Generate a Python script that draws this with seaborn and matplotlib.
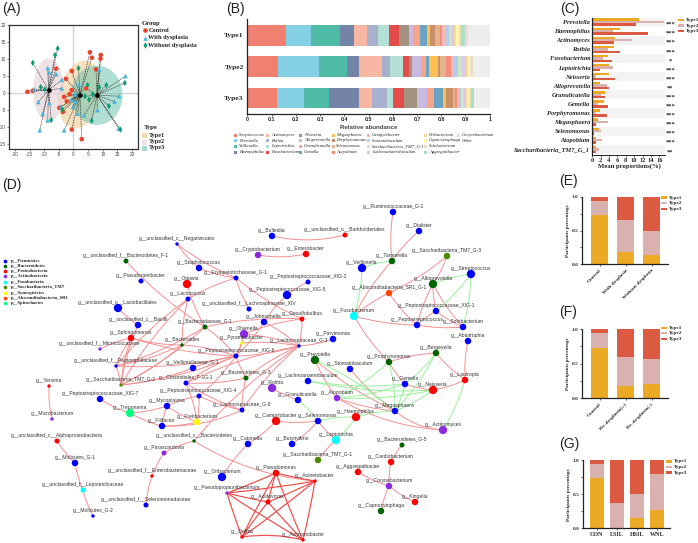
# Composite figure: PCA, stacked bars, grouped bars and a co-occurrence network
import numpy as np
import pandas as pd
import matplotlib
matplotlib.use("Agg")
import matplotlib.pyplot as plt
from matplotlib.patches import Ellipse, FancyArrowPatch, Rectangle
import seaborn as sns

W, H = 698, 543
SERIF = "Liberation Serif"
SANS = "Liberation Sans"

# --- panel A data
control_x = [5.6, 9.3, 9.2, 6.3, 7.7, -5.9, -0.6, -2.6, 4.3, -0.6, -15.7, -13.9, -3.2, -1.4, -2.3, -4.8, -3.6, -0.6, 2.8]
control_y = [11.9, 11.1, 10.0, 10.3, 6.9, 7.1, 6.4, 4.1, 1.3, 0.8, 0.3, 0.6, -1.2, -0.4, -2.5, -4.4, -5.6, -10.8, -13.6]
control_type = ["Type1", "Type3", "Type3", "Type1", "Type3", "Type2", "Type1", "Type1", "Type3", "Type1", "Type2", "Type2", "Type1", "Type1", "Type1", "Type1", "Type1", "Type1", "Type1"]
with_x = [17.7, 8.8, -8.8, -8.3, -5.9, -4.0, -4.0, -13.4, -12.0, -8.2, -10.5, -8.8, -11.5, -3.2, -4.2, -0.2, -0.8, 0.6, 1.4, 3.6, 1.9, 8.2, 14.0, 15.6, 15.4, 0.6]
with_y = [4.9, 6.9, 7.3, 6.0, 5.5, 3.8, 1.3, 1.0, -2.7, -3.0, -6.2, -8.1, -11.0, -11.0, -4.1, -4.1, -2.0, -2.7, -6.1, -6.6, 2.3, -5.1, -2.6, -1.0, -10.5, -0.4]
with_type = ["Type3", "Type3", "Type2", "Type2", "Type2", "Type2", "Type2", "Type2", "Type2", "Type2", "Type2", "Type2", "Type2", "Type1", "Type1", "Type1", "Type1", "Type1", "Type1", "Type3", "Type1", "Type3", "Type3", "Type3", "Type3", "Type1"]
without_x = [-5.4, -6.3, -13.9, 1.7, -11.2, -9.8, -7.6, -3.8, 11.2, 8.8, 17.5, 12.1, 16.0, 6.2, 5.3, 3.9, 2.1, 6.6, 4.8]
without_y = [13.0, 11.1, 8.8, 7.2, 1.7, 1.0, -8.0, -4.9, 2.3, 1.6, 2.9, -3.9, -10.8, -8.2, -2.0, -1.0, -0.7, -0.4, 2.3]
without_type = ["Type2", "Type2", "Type2", "Type1", "Type2", "Type2", "Type2", "Type1", "Type3", "Type3", "Type3", "Type3", "Type3", "Type3", "Type3", "Type3", "Type1", "Type3", "Type1"]
centre_x = {"Type1": 2.2, "Type2": -8.5, "Type3": 8.0}
centre_y = {"Type1": -0.5, "Type2": 0.8, "Type3": -0.7}

# --- panel B data, cumulative position of each genus along the bar
genera = ["Streptococcus", "Prevotella", "Veillonella", "Haemophilus",
          "Actinomyces", "Rothia", "Leptotrichia", "Fusobacterium",
          "Neisseria", "Alloprevotella", "Granulicatella", "Gemella",
          "Megasphaera", "Porphyromonas", "Selenomonas", "Atopobium",
          "Campylobacter", "Stomatobaculum", "Saccharibacteria_TM7_G-1", "Lachnoanaerobaculum",
          "Oribacterium", "Capnocytophaga", "Solobacterium", "Aggregatibacter",
          "Corynebacterium", "Other"]
genus_colors = ["#f08070", "#85d0e4", "#4dbba6", "#7484a8",
                "#f7b7a3", "#a7b0cc", "#b2e0d5", "#e64b4b",
                "#a39280", "#c9b8e0", "#f7a488", "#6ba3c4",
                "#fbbf54", "#c98f68", "#e3b48c", "#f58d7c",
                "#f6b9b5", "#b5cde6", "#cce5c4", "#dcc8e8",
                "#fad9a0", "#fdf5b0", "#e8dfc5", "#a8e0c4",
                "#f9d2e4", "#eeeeee"]
type1_top = [.158, .263, .382, .440, .494, .541, .586, .627, .668, .685, .713, .740, .754, .774, .794, .803, .820, .831, .843, .851, .861, .875, .880, .897, .911, 1]
type2_top = [.127, .296, .413, .461, .556, .589, .641, .668, .680, .717, .736, .748, .787, .795, .820, .840, .851, .869, .886, .902, .911, .919, .933, .933, .933, 1]
type3_top = [.122, .234, .337, .461, .516, .578, .600, .646, .700, .743, .770, .806, .820, .850, .856, .865, .875, .883, .893, .901, .906, .915, .922, .935, .935, 1]

# --- panel C data
c_genera = ["Prevotella", "Haemophilus", "Actinomyces", "Rothia", "Fusobacterium", "Leptotrichia", "Neisseria",
            "Alloprevotella", "Granulicatella", "Gemella", "Porphyromonas", "Megasphaera", "Selenomonas",
            "Atopobium", "Saccharibacteria_TM7_G_1"]
c_type1 = [11.2, 6.5, 5.4, 5.1, 3.8, 3.9, 3.9, 1.8, 3.0, 2.7, 1.9, 1.3, 1.6, 0.9, 0.8]
c_type2 = [17.0, 4.9, 9.4, 3.7, 2.6, 4.9, 1.0, 3.4, 2.0, 1.3, 0.9, 3.8, 2.0, 2.2, 1.6]
c_type3 = [10.5, 13.4, 5.2, 6.5, 4.7, 1.8, 5.5, 4.0, 3.1, 3.8, 3.4, 1.0, 0.5, 0.8, 1.0]
c_stars = ["***", "***", "***", "***", "*", "***", "***", "**", "***", "***", "***", "***", "***", "***", "**"]

# --- panels E, F, G data (share of each type)
e_labels = ["Control", "With dysplasia", "Without dysplasia"]
e_type1 = [.73, .18, .14]
e_type2 = [.21, .48, .36]
e_type3 = [.06, .34, .50]
f_labels = ["Control", "Pre-dysplasia(+)", "Pre-dysplasia(-)"]
f_type1 = [.73, .175, .20]
f_type2 = [.21, .425, .37]
f_type3 = [.06, .40, .43]
g_labels = ["CON", "LSIL", "HSIL", "WNL"]
g_type1 = [.73, 0.0, .146, .263]
g_type2 = [.21, .375, .354, .527]
g_type3 = [.06, .625, .50, .21]

# --- panel D data: nodes
node_names = ["Bulleidia", "Cryptobacterium", "unclassified_c__Negativicutes", "unclassified_f__Bacteroidetes_F-1",
              "Staphylococcus", "Erysipelotrichaceae_G-1", "Pseudoramibacter", "Ottowia",
              "Peptostreptococcaceae_XIG-5", "Lactococcus", "unclassified_f__Lachnospiraceae_XIV",
              "unclassified_o__Lactobacillales", "Johnsonella", "unclassified_c__Bacilli", "Bacteroidaceae_G-1",
              "Olsenella", "Sphingomonas", "Pyramidobacter", "Bacteroides", "unclassified_f__Micrococcaceae",
              "Peptostreptococcaceae_XIG-6", "Lachnospiraceae_G-3",
              "Ruminococcaceae_G-1", "Dialister", "unclassified_o__Burkholderiales", "Enterobacter",
              "Saccharibacteria_TM7_G-3", "Tannerella", "Veillonella", "Streptococcus",
              "Peptostreptococcaceae_XIG-2", "Alloprevotella", "Absconditabacteria_SR1_G-1",
              "Peptostreptococcaceae_XIG-1", "Fusobacterium", "Desulfobulbus", "Peptostreptococcus",
              "Solobacterium", "Abiotrophia", "Parvimonas", "Bergeyella", "Prevotella", "Porphyromonas",
              "Stomatobaculum", "Lachnoanaerobaculum", "Gemella", "Neisseria", "Lautropia", "Granulicatella",
              "Atopobium", "Megasphaera", "Haemophilus", "Selenomonas", "Actinomyces", "Leptotrichia",
              "Bacteroidetes_G-5", "Butyrivibrio", "Saccharibacteria_TM7_G-1", "Cardiobacterium",
              "Aggregatibacter", "Acinetobacter", "Corynebacterium", "Kingella", "Capnocytophaga", "Achromobacter",
              "unclassified_f__Peptoniphilaceae", "Veillonellaceae_G-1", "Yersinia", "Saccharibacteria_TM7_G-2",
              "Clostridiales_F-1G-1", "Bacteroidetes_G-3", "Rothia", "Peptostreptococcaceae_XIG-7",
              "Peptostreptococcaceae_XIG-4", "Mycoplasma", "Lachnospiraceae_G-8", "Microbacterium", "Treponema",
              "Fretibacterium", "Filifactor", "Campylobacter", "unclassified_c__Bacteroidetes",
              "unclassified_c__Alphaproteobacteria", "Catonella", "Parascardovia", "Molicutes_G-1", "Pseudomonas",
              "unclassified_f__Enterobacteriaceae", "Oribacterium", "unclassified_f__Leptotrichiaceae",
              "Pseudopropionibacterium", "Acidovorax", "unclassified_f__Selenomonadaceae", "Molicutes_G-2", "Delftia"]
node_x = [272, 258, 177, 126, 199, 236, 141, 187, 287, 188, 249, 118, 264, 138, 205, 244, 131, 242, 182, 100, 236, 299,
          393, 419, 345, 306, 447, 392, 362, 471, 308, 433, 389, 436, 354, 302, 417, 463, 468, 333, 436, 315, 389,
          350, 308, 405, 433, 465, 298, 337, 395, 356, 318, 443, 336, 402, 292, 318, 391, 358, 315, 389, 415, 381, 303,
          116, 193, 49, 121, 186, 246, 272, 100, 199, 167, 242, 52, 130, 197, 162, 276, 194, 57, 248, 164, 75, 276,
          152, 222, 83, 227, 268, 146, 93, 242]
node_y = [236, 255, 244, 261, 268, 278, 281, 284, 295, 299, 309, 308, 322, 325, 327, 334, 338, 343, 345, 349, 356, 346,
          212, 231, 235, 254, 256, 261, 268, 274, 282, 284, 293, 311, 316, 319, 325, 327, 341, 339, 353, 360, 362,
          369, 381, 384, 390, 380, 400, 398, 411, 417, 421, 430, 440, 445, 444, 460, 462, 472, 481, 486, 502, 511, 540,
          366, 368, 386, 385, 383, 378, 388, 399, 396, 406, 410, 419, 413, 422, 426, 421, 441, 441, 444, 453, 463, 473,
          476, 477, 490, 493, 502, 505, 516, 537]
node_phylum = ["Fir", "Act", "Fir", "Bac", "Fir", "Fir", "Fir", "Pro", "Fir", "Fir", "Fir", "Fir", "Fir", "Fir", "Bac",
               "Act", "Pro", "Syn", "Bac", "Act", "Fir", "Fir",
               "Fir", "Fir", "Pro", "Pro", "Sac", "Bac", "Fir", "Fir", "Fir", "Bac", "Abs", "Fir", "Fus", "Pro", "Fir",
               "Fir", "Fir", "Fir", "Bac", "Bac", "Bac", "Fir", "Fir", "Fir", "Pro", "Pro", "Fir", "Act", "Fir", "Pro",
               "Fir", "Act", "Fus", "Bac", "Fir", "Sac", "Pro", "Pro", "Pro", "Act", "Pro", "Bac", "Pro",
               "Fir", "Fir", "Pro", "Sac", "Fir", "Bac", "Act", "Fir", "Fir", "Fir", "Fir", "Act", "Spi", "Syn", "Fir",
               "Pro", "Bac", "Pro", "Fir", "Act", "Fir", "Pro", "Pro", "Fir", "Fus", "Act", "Pro", "Fir", "Fir", "Pro"]
node_rank = [3, 3, 1, 2, 3, 2, 2, 4, 4, 2, 2, 4, 3, 3, 2, 4, 3, 1, 1, 1, 2, 1,
             3, 3, 2, 3, 3, 3, 4, 4, 2, 4, 3, 3, 4, 2, 3, 3, 3, 3, 3, 4, 3,
             3, 3, 3, 4, 3, 3, 3, 3, 4, 3, 4, 4, 2, 3, 3, 3, 3, 1, 3, 3, 3, 1,
             1, 3, 1, 1, 2, 2, 4, 3, 2, 3, 2, 1, 4, 3, 3, 4, 1, 2, 3, 2, 3, 3,
             1, 4, 2, 1, 2, 2, 1, 1]

# --- panel D data: edges
edges_pos = [("Bulleidia", "unclassified_o__Burkholderiales"), ("Cryptobacterium", "Enterobacter"),
             ("unclassified_c__Negativicutes", "Staphylococcus"), ("Staphylococcus", "Erysipelotrichaceae_G-1"),
             ("unclassified_c__Negativicutes", "Erysipelotrichaceae_G-1"),
             ("Erysipelotrichaceae_G-1", "Lactococcus"), ("Erysipelotrichaceae_G-1", "unclassified_f__Lachnospiraceae_XIV"),
             ("Erysipelotrichaceae_G-1", "Desulfobulbus"), ("Peptostreptococcaceae_XIG-5", "Johnsonella"),
             ("Peptostreptococcaceae_XIG-2", "Peptostreptococcaceae_XIG-5"),
             ("unclassified_f__Bacteroidetes_F-1", "Bacteroidaceae_G-1"), ("Ottowia", "Bacteroidaceae_G-1"),
             ("Lactococcus", "Bacteroides"), ("Lactococcus", "Saccharibacteria_TM7_G-2"),
             ("Lactococcus", "unclassified_f__Peptoniphilaceae"), ("unclassified_o__Lactobacillales", "unclassified_c__Bacilli"),
             ("Sphingomonas", "unclassified_f__Micrococcaceae"), ("Sphingomonas", "Bacteroides"),
             ("Sphingomonas", "Saccharibacteria_TM7_G-2"), ("Sphingomonas", "unclassified_f__Peptoniphilaceae"),
             ("Sphingomonas", "Peptostreptococcaceae_XIG-6"), ("unclassified_c__Bacilli", "Saccharibacteria_TM7_G-2"),
             ("Saccharibacteria_TM7_G-2", "Bacteroides"), ("Saccharibacteria_TM7_G-2", "Bacteroidaceae_G-1"),
             ("Saccharibacteria_TM7_G-2", "Peptostreptococcaceae_XIG-6"), ("Saccharibacteria_TM7_G-2", "unclassified_f__Peptoniphilaceae"),
             ("Saccharibacteria_TM7_G-2", "Veillonellaceae_G-1"), ("unclassified_f__Peptoniphilaceae", "Bacteroides"),
             ("unclassified_f__Peptoniphilaceae", "Bacteroidaceae_G-1"), ("unclassified_f__Peptoniphilaceae", "Peptostreptococcaceae_XIG-6"),
             ("Peptostreptococcaceae_XIG-6", "Bacteroides"), ("Peptostreptococcaceae_XIG-6", "Bacteroidaceae_G-1"),
             ("Peptostreptococcaceae_XIG-6", "Clostridiales_F-1G-1"), ("Peptostreptococcaceae_XIG-6", "Veillonellaceae_G-1"),
             ("Peptostreptococcaceae_XIG-6", "Bacteroidetes_G-3"), ("Peptostreptococcaceae_XIG-6", "Lachnospiraceae_G-3"),
             ("Peptostreptococcaceae_XIG-6", "Olsenella"), ("Peptostreptococcaceae_XIG-6", "Pyramidobacter"),
             ("Peptostreptococcaceae_XIG-6", "Johnsonella"), ("Lachnospiraceae_G-3", "Desulfobulbus"),
             ("Lachnospiraceae_G-3", "Olsenella"), ("Lachnospiraceae_G-3", "Pyramidobacter"),
             ("Lachnospiraceae_G-3", "Johnsonella"), ("Lachnospiraceae_G-3", "Bacteroidetes_G-3"),
             ("Lachnospiraceae_G-3", "Clostridiales_F-1G-1"), ("Lachnospiraceae_G-3", "Lachnospiraceae_G-8"),
             ("Lachnospiraceae_G-3", "Parvimonas"), ("Lachnospiraceae_G-3", "unclassified_c__Bacteroidetes"),
             ("Desulfobulbus", "Olsenella"), ("Desulfobulbus", "Bacteroidaceae_G-1"),
             ("Peptostreptococcaceae_XIG-7", "Treponema"), ("Treponema", "Mycoplasma"), ("Treponema", "Filifactor"),
             ("Mycoplasma", "Filifactor"), ("Mycoplasma", "Fretibacterium"), ("Filifactor", "Fretibacterium"),
             ("Filifactor", "Lachnospiraceae_G-8"), ("Fretibacterium", "Peptostreptococcaceae_XIG-4"),
             ("Fretibacterium", "Clostridiales_F-1G-1"), ("Peptostreptococcaceae_XIG-4", "Lachnospiraceae_G-8"),
             ("Peptostreptococcaceae_XIG-4", "Mycoplasma"), ("Clostridiales_F-1G-1", "Lachnospiraceae_G-8"),
             ("Clostridiales_F-1G-1", "Bacteroidetes_G-3"), ("Bacteroidetes_G-3", "Lachnospiraceae_G-8"),
             ("Peptostreptococcaceae_XIG-4", "Peptostreptococcaceae_XIG-6"),
             ("unclassified_c__Bacteroidetes", "Parascardovia"), ("unclassified_c__Bacteroidetes", "Acinetobacter"),
             ("Parascardovia", "unclassified_f__Enterobacteriaceae"), ("unclassified_f__Enterobacteriaceae", "unclassified_f__Selenomonadaceae"),
             ("Yersinia", "Microbacterium"), ("unclassified_c__Alphaproteobacteria", "Molicutes_G-1"),
             ("Molicutes_G-1", "unclassified_f__Leptotrichiaceae"), ("unclassified_f__Leptotrichiaceae", "Molicutes_G-2"),
             ("Rothia", "Granulicatella"), ("Catonella", "Oribacterium"), ("Catonella", "Campylobacter"),
             ("Campylobacter", "Selenomonas"), ("Butyrivibrio", "Selenomonas"), ("Selenomonas", "Leptotrichia"),
             ("Leptotrichia", "Saccharibacteria_TM7_G-1"),
             ("Ruminococcaceae_G-1", "Tannerella"), ("Dialister", "Tannerella"), ("Tannerella", "Fusobacterium"),
             ("Absconditabacteria_SR1_G-1", "Fusobacterium"), ("Absconditabacteria_SR1_G-1", "Saccharibacteria_TM7_G-3"),
             ("Absconditabacteria_SR1_G-1", "Peptostreptococcus"), ("Fusobacterium", "Peptostreptococcus"),
             ("Fusobacterium", "Porphyromonas"), ("Alloprevotella", "Saccharibacteria_TM7_G-3"),
             ("Alloprevotella", "Peptostreptococcaceae_XIG-1"), ("Alloprevotella", "Peptostreptococcus"),
             ("Alloprevotella", "Solobacterium"), ("Peptostreptococcaceae_XIG-1", "Solobacterium"),
             ("Peptostreptococcaceae_XIG-1", "Peptostreptococcus"), ("Peptostreptococcus", "Solobacterium"),
             ("Abiotrophia", "Lautropia"), ("Bergeyella", "Lautropia"), ("Bergeyella", "Porphyromonas"),
             ("Porphyromonas", "Gemella"), ("Gemella", "Neisseria"), ("Neisseria", "Lautropia"),
             ("Prevotella", "Megasphaera"), ("Prevotella", "Atopobium"), ("Stomatobaculum", "Megasphaera"),
             ("Atopobium", "Megasphaera"), ("Atopobium", "Actinomyces"), ("Megasphaera", "Actinomyces"),
             ("Bacteroidetes_G-5", "Cardiobacterium"), ("Cardiobacterium", "Corynebacterium"),
             ("Aggregatibacter", "Corynebacterium"), ("Corynebacterium", "Kingella"), ("Corynebacterium", "Capnocytophaga")]
edges_neg = [("Veillonella", "Tannerella"), ("Veillonella", "Fusobacterium"), ("Alloprevotella", "Streptococcus"),
             ("Streptococcus", "Peptostreptococcaceae_XIG-1"), ("Streptococcus", "Solobacterium"),
             ("Bergeyella", "Megasphaera"), ("Bergeyella", "Gemella"), ("Porphyromonas", "Atopobium"),
             ("Porphyromonas", "Megasphaera"), ("Gemella", "Megasphaera"), ("Gemella", "Lachnoanaerobaculum"),
             ("Gemella", "Atopobium"), ("Neisseria", "Lachnoanaerobaculum"), ("Neisseria", "Atopobium"),
             ("Neisseria", "Megasphaera"), ("Lautropia", "Actinomyces"), ("Prevotella", "Megasphaera"),
             ("Haemophilus", "Megasphaera"), ("Haemophilus", "Leptotrichia"), ("Selenomonas", "Haemophilus"),
             ("Granulicatella", "Selenomonas")]
clique_nodes = ["Pseudopropionibacterium", "Pseudomonas", "Acidovorax", "Delftia", "Achromobacter", "Acinetobacter"]

edge_bend = {("Bulleidia", "unclassified_o__Burkholderiales"): 0.12, ("Cryptobacterium", "Enterobacter"): 0.1,
             ("Atopobium", "Actinomyces"): 0.12, ("Megasphaera", "Actinomyces"): 0.16,
             ("unclassified_c__Bacteroidetes", "Acinetobacter"): 0.12, ("Delftia", "Achromobacter"): -0.1,
             ("Filifactor", "Lachnospiraceae_G-8"): 0.12}

phylum_names = ["p__Firmicutes", "p__Bacteroidetes", "p__Proteobacteria", "p__Actinobacteria", "p__Fusobacteria",
                "p__Saccharibacteria_TM7", "p__Synergistetes", "p__Absconditabacteria_SR1", "p__Spirochaetes"]
phylum_keys = ["Fir", "Bac", "Pro", "Act", "Fus", "Sac", "Syn", "Abs", "Spi"]
phylum_colors = ["#0000ff", "#006400", "#ff0000", "#8a2be2", "#00ffff", "#4b8b00", "#ffff00", "#ff4500", "#00ff7f"]
type_colors = {"Type1": "#ecaa24", "Type2": "#d9b2b0", "Type3": "#dc5a42"}

sns.set_theme(style="white")
plt.rcParams["font.family"] = [SANS, "DejaVu Sans"]
plt.rcParams["axes.unicode_minus"] = False

fig = plt.figure(figsize=(W / 100, H / 100), dpi=100)


def px_axes(left, top, right, bottom):
    return fig.add_axes([left / W, 1 - bottom / H, (right - left) / W, (bottom - top) / H])


def bold_ticks(ax, size):
    for t in ax.get_xticklabels() + ax.get_yticklabels():
        t.set_fontfamily(SERIF)
        t.set_fontweight("bold")
        t.set_fontsize(size)


# overlay in picture pixels, holds the network and the hand placed legends
ov = fig.add_axes([0, 0, 1, 1], zorder=5)
ov.set_xlim(0, W)
ov.set_ylim(H, 0)
ov.axis("off")

for lab, x, y in [("(A)", 2, 9), ("(B)", 226, 9), ("(C)", 560, 9), ("(D)", 2, 185), ("(E)", 559, 181), ("(F)", 559, 312), ("(G)", 559, 444)]:
    ov.text(x, y, lab, fontsize=10, family=SANS, va="center", color="#222222")

# ---------- A
ax = px_axes(9.3, 24.7, 137.7, 149)
pca = pd.DataFrame({
    "x": control_x + with_x + without_x,
    "y": control_y + with_y + without_y,
    "type": control_type + with_type + without_type,
    "group": ["Control"] * len(control_x) + ["With dysplasia"] * len(with_x) + ["Without dysplasia"] * len(without_x),
})
ax.axhline(0, color="#d5d5d5", lw=1.0, zorder=0)
ax.axvline(0, color="#d5d5d5", lw=1.0, zorder=0)
ax.add_patch(Ellipse((2.2, -0.5), 14.1, 20.5, angle=-18, fc="#f0c27f", alpha=0.5, lw=0, zorder=1))
ax.add_patch(Ellipse((-8.5, 0.8), 10.5, 18.5, fc="#e4cfd4", alpha=0.6, lw=0, zorder=1))
ax.add_patch(Ellipse((8.0, -0.7), 17.5, 17.5, fc="#6fc4ae", alpha=0.55, lw=0, zorder=1))
for _, row in pca.iterrows():
    ax.plot([row.x, centre_x[row.type]], [row.y, centre_y[row.type]], color="#333333", lw=0.5, ls=(0, (1.5, 1)), zorder=2)
sns.scatterplot(pca, x="x", y="y", hue="group", style="group", ax=ax, legend=False, s=11, linewidth=0, zorder=3,
                palette={"Control": "#e8432e", "With dysplasia": "#45b5dc", "Without dysplasia": "#0f9d76"},
                markers={"Control": "o", "With dysplasia": "^", "Without dysplasia": "d"})
ax.scatter(list(centre_x.values()), list(centre_y.values()), s=5, color="black", zorder=4)
ax.set_xlim(-21.9, 21.9)
ax.set_ylim(-16.5, 20)
ax.set_xticks(range(-20, 21, 5))
ax.set_yticks(range(-15, 21, 5))
ax.set_xlabel("")
ax.set_ylabel("")
ax.tick_params(length=1.5, width=0.4, labelsize=3.4, pad=1, labelcolor="#444444", bottom=True, left=True)
for s in ax.spines.values():
    s.set_linewidth(0.9)
    s.set_color("#333333")

ov.text(142, 24, "Group", family=SERIF, weight="bold", fontsize=4.8, va="center", color="#222222")
for y, name, col, mk in [(30, "Control", "#e8432e", "o"), (38, "With dysplasia", "#45b5dc", "^"), (45, "Without dysplasia", "#0f9d76", "d")]:
    ov.scatter([144.5], [y], s=11, color=col, marker=mk, lw=0)
    ov.text(148.5, y, name, family=SERIF, weight="bold", fontsize=4.5, va="center", color="#222222")
ov.text(144, 128, "Type", family=SERIF, weight="bold", fontsize=4.8, va="center", color="#222222")
for y, name, col in [(135, "Type1", "#f6d9ac"), (142, "Type2", "#efe1e3"), (148, "Type3", "#a6dccd")]:
    ov.add_patch(Rectangle((142, y - 2.5), 5, 5, fc=col, lw=0))
    ov.text(148.5, y, name, family=SERIF, weight="bold", fontsize=4.5, va="center", color="#222222")

# ---------- B
ax = px_axes(247.3, 19, 489.7, 114)
abund = pd.DataFrame({"genus": genera, "Type1": type1_top, "Type2": type2_top, "Type3": type3_top})
long_b = abund.melt(id_vars="genus", var_name="type", value_name="top")
for name, col in zip(genera[::-1], genus_colors[::-1]):
    sns.barplot(long_b[long_b.genus == name], x="top", y="type", color=col, saturation=1, width=0.66, ax=ax,
                errorbar=None, linewidth=0)
ax.set_xlim(0, 1)
ax.set_ylim(2.51, -0.52)
ax.set_xticks(np.arange(0, 1.01, 0.1), ["0", "0.1", "0.2", "0.3", "0.4", "0.5", "0.6", "0.7", "0.8", "0.9", "1"])
ax.set_xlabel("Relative abundance", fontsize=4.4, labelpad=1.5, weight="bold", color="#444444")
ax.set_ylabel("")
ax.tick_params(axis="x", length=1.5, width=0.5, labelsize=3.8, pad=1, bottom=True)
ax.tick_params(axis="y", length=0, pad=2.5)
bold_ticks(ax, 5.4)
for t in ax.get_xticklabels():
    t.set_fontfamily(SANS)
    t.set_fontsize(3.8)
sns.despine(ax=ax)
ax.spines["left"].set_linewidth(0.9)
ax.spines["bottom"].set_linewidth(0.9)
ax.spines["left"].set_color("#222222")
ax.spines["bottom"].set_color("#222222")

legend_cols_x = [12, 44, 77, 109.5, 145, 202, 235]
legend_rows_y = [135, 140.5, 146, 152]
for i, (name, col) in enumerate(zip(genera, genus_colors)):
    cx = 225 + legend_cols_x[i // 4]
    cy = legend_rows_y[i % 4]
    ov.add_patch(Rectangle((cx - 3, cy - 1.5), 3.4, 3.2, fc=col, lw=0))
    ov.text(cx + 1.8, cy, name, family=SERIF, style="italic", fontsize=3.3, va="center", color="#222222")

# ---------- C
ax = px_axes(592.3, 17.5, 665, 154.8)
props = pd.DataFrame({"genus": c_genera, "Type1": c_type1, "Type2": c_type2, "Type3": c_type3})
long_c = props.melt(id_vars="genus", var_name="type", value_name="value")
for i in range(0, len(c_genera), 2):
    ax.axhspan(i - 0.5, i + 0.5, color="#f3f3f3", lw=0, zorder=0)
sns.barplot(long_c, x="value", y="genus", hue="type", palette=type_colors, saturation=1, width=0.8, ax=ax,
            legend=False, errorbar=None, zorder=2, linewidth=0, gap=0)
ax.set_xlim(0, 17.35)
ax.set_ylim(14.6, -0.5)
ax.set_xticks(range(0, 17, 2))
ax.set_xlabel("Mean proportions(%)", family=SERIF, weight="bold", fontsize=4.8, labelpad=1.5, color="#222222")
ax.xaxis.set_label_coords(0.51, -0.06)
ax.set_ylabel("")
ax.tick_params(axis="x", length=1.5, width=0.5, pad=0.8, bottom=True)
ax.tick_params(axis="y", length=0, pad=1.5)
bold_ticks(ax, 4.7)
for t in ax.get_yticklabels():
    t.set_fontstyle("italic")
sns.despine(ax=ax)
ax.spines["left"].set_linewidth(0.9)
ax.spines["bottom"].set_linewidth(0.7)
ax.spines["left"].set_color("#222222")
ax.spines["bottom"].set_color("#222222")
for i, star in enumerate(c_stars):
    ax.text(18.6, i + 0.25, star, family=SERIF, weight="bold", fontsize=4.6, ha="center", va="center", clip_on=False, color="#222222")


def type_legend(x, rows):
    for y, name in zip(rows, type_colors):
        ov.add_patch(Rectangle((x, y - 1.3), 5.7, 2.7, fc=type_colors[name], lw=0))
        ov.text(x + 7.5, y, name, family=SERIF, weight="bold", fontsize=3.7, va="center", color="#222222")


type_legend(678, [20, 25.7, 31])


# ---------- E, F, G
def stacked_panel(box, labels, t1, t2, t3, xlim, rotate):
    ax = px_axes(*box)
    parts = pd.DataFrame({"label": labels, "Type1": t1, "Type2": t2, "Type3": t3}).set_index("label")
    tops = parts.cumsum(axis=1).reset_index()
    for name in ["Type3", "Type2", "Type1"]:
        sns.barplot(tops, x="label", y=name, color=type_colors[name], saturation=1, width=0.67, ax=ax,
                    errorbar=None, linewidth=0)
    ax.set_xlim(*xlim)
    ax.set_ylim(0, 1)
    ax.set_yticks([0, 0.25, 0.5, 0.75, 1], ["0.0", "", "0.5", "", "1.0"])
    ax.set_xlabel("")
    ax.set_ylabel("Participants percentage", family=SERIF, weight="bold", fontsize=3.7, labelpad=1.5, color="#222222")
    ax.tick_params(axis="y", length=1.5, width=0.5, pad=1, left=True)
    ax.tick_params(axis="x", length=1.5, width=0.5, pad=1.5, bottom=True)
    bold_ticks(ax, 3.8)
    if rotate:
        for t in ax.get_xticklabels():
            t.set_rotation(45)
            t.set_ha("right")
            t.set_rotation_mode("anchor")
    else:
        for t in ax.get_xticklabels():
            t.set_fontsize(4.4)
    sns.despine(ax=ax)
    for side in ["left", "bottom"]:
        ax.spines[side].set_linewidth(0.9)
        ax.spines[side].set_color("#222222")
    return ax


stacked_panel((582, 196.7, 668, 264.3), e_labels, e_type1, e_type2, e_type3, (-0.68, 2.63), True)
stacked_panel((582, 329.3, 668, 398), f_labels, f_type1, f_type2, f_type3, (-0.68, 2.63), True)
stacked_panel((583, 460, 670.3, 528.3), g_labels, g_type1, g_type2, g_type3, (-0.7, 3.67), False)
type_legend(661, [197.7, 203, 209])
type_legend(661, [328, 333, 339])
type_legend(666, [461.3, 467, 472.7])

# ---------- D
pos = dict(zip(node_names, zip(node_x, node_y)))


def draw_edge(a, b, color, lw, rad):
    ov.add_patch(FancyArrowPatch(pos[a], pos[b], arrowstyle="-", connectionstyle=f"arc3,rad={rad}", color=color,
                                 lw=lw, shrinkA=0, shrinkB=0, zorder=1))


for a, b in edges_pos:
    draw_edge(a, b, "#f58f90", 0.7, edge_bend.get((a, b), 0.07))
for a, b in edges_neg:
    draw_edge(a, b, "#9bef9b", 0.7, edge_bend.get((a, b), -0.07))
for i, a in enumerate(clique_nodes):
    for b in clique_nodes[i + 1:]:
        draw_edge(a, b, "#ef4a4a", 0.85, edge_bend.get((a, b), 0.02))

nodes = pd.DataFrame({"name": node_names, "x": node_x, "y": node_y, "phylum": node_phylum, "rank": node_rank})
sns.scatterplot(nodes, x="x", y="y", hue="phylum", size="rank", ax=ov, legend=False, linewidth=0, zorder=3,
                palette=dict(zip(phylum_keys, phylum_colors)),
                sizes={1: 6, 2: 13, 3: 22, 4: 36})
ov.set_xlim(0, W)
ov.set_ylim(H, 0)
ov.axis("off")
for name, x, y in zip(node_names, node_x, node_y):
    ov.text(x, y - 5.5, "g__" + name, fontsize=3.6, family=SANS, ha="center", va="center", color="#333333", zorder=4)

for i, (name, col) in enumerate(zip(phylum_names, phylum_colors)):
    y = [260.7, 266, 271, 276.3, 281.7, 287, 292.7, 297.7, 302.7][i]
    ov.scatter([5.3], [y], s=7, color=col, lw=0)
    ov.text(11, y, name, family=SERIF, weight="bold", fontsize=3.4, va="center", color="#222222")

fig.savefig("out.png", dpi=100)
